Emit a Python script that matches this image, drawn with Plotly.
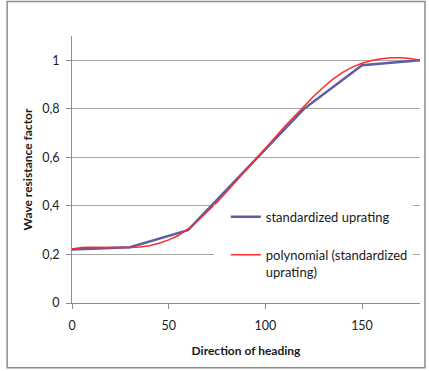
import plotly.graph_objects as go

# Data
std_x = [0, 30, 60, 90, 120, 150, 180]
std_y = [0.22, 0.23, 0.30, 0.55, 0.80, 0.98, 1.00]

poly_x = [0, 5, 10, 15, 20, 25, 30, 35, 40, 45, 50, 55, 60, 65, 70, 75, 80, 85, 90,
          95, 100, 105, 110, 115, 120, 125, 130, 135, 140, 145, 150, 155, 160, 165,
          170, 175, 180]
poly_y = [0.222, 0.229, 0.230, 0.229, 0.228, 0.228, 0.229, 0.231, 0.236, 0.246, 0.260,
          0.278, 0.305, 0.338, 0.375, 0.415, 0.458, 0.502, 0.547, 0.592, 0.637, 0.682,
          0.727, 0.770, 0.812, 0.852, 0.889, 0.922, 0.950, 0.972, 0.988, 0.999, 1.006,
          1.010, 1.010, 1.007, 1.000]

x_ticks = [0, 50, 100, 150]
x_tick_labels = ["0", "50", "100", "150"]
y_ticks = [0, 0.2, 0.4, 0.6, 0.8, 1.0]
y_tick_labels = ["0", "0,2", "0,4", "0,6", "0,8", "1"]

FONT = "Lato"

fig = go.Figure()
fig.add_trace(go.Scatter(
    x=std_x, y=std_y, mode="lines", name="standardized uprating",
    line=dict(color="#5B5EA0", width=2.5), legendgroup="a"))
fig.add_trace(go.Scatter(
    x=poly_x, y=poly_y, mode="lines", name="polynomial (standardized<br>uprating)",
    line=dict(color="#FF2A2A", width=1.5), legendgroup="b"))

L, R, T, B = 72.3, 420.0, 36.0, 303.3
W, H = 429, 371

def px2paper_x(p):
    return (p - L) / (R - L)

def px2paper_y(p):
    return (B - p) / (B - T)

fig.update_layout(
    width=W, height=H,
    margin=dict(l=L, r=W - R, t=T, b=H - B, pad=0),
    paper_bgcolor="white", plot_bgcolor="white",
    font=dict(family=FONT, size=12.5, color="#1a1a1a"),
    showlegend=True,
    legend=dict(
        x=px2paper_x(226), y=px2paper_y(202), xanchor="left", yanchor="top",
        bgcolor="white", borderwidth=0, tracegroupgap=18, valign="top",
        font=dict(family=FONT, size=13, color="#1a1a1a"),
        traceorder="grouped",
    ),
    xaxis=dict(
        range=[0, 180], tickvals=x_ticks, ticktext=x_tick_labels,
        showgrid=False, zeroline=False, showline=True, linecolor="#8c8c8c", linewidth=1,
        ticks="outside", ticklen=5, tickcolor="#8c8c8c", ticklabelstandoff=6,
        title=dict(text="<b>Direction of heading</b>", font=dict(family=FONT, size=12), standoff=14),
        automargin=False,
    ),
    yaxis=dict(
        range=[0, 1.1], tickvals=y_ticks, ticktext=y_tick_labels,
        showgrid=True, gridcolor="#a6a6a6", gridwidth=1, zeroline=False,
        showline=True, linecolor="#8c8c8c", linewidth=1,
        ticks="outside", ticklen=5, tickcolor="#8c8c8c", ticklabelstandoff=4,
        title=dict(text="<b>Wave resistance factor</b>", font=dict(family=FONT, size=12), standoff=6),
        automargin=False,
    ),
    shapes=[
        dict(type="rect", xref="paper", yref="paper",
             x0=px2paper_x(7.5), x1=px2paper_x(425), y0=px2paper_y(368), y1=px2paper_y(1.5),
             line=dict(color="#8c8c8c", width=1.5), fillcolor="rgba(0,0,0,0)", layer="below"),
        dict(type="rect", xref="paper", yref="paper",
             x0=px2paper_x(214), x1=px2paper_x(227), y0=px2paper_y(292), y1=px2paper_y(205),
             line=dict(width=0), fillcolor="white", layer="above"),
    ],
)

fig.write_html("out.html", config={"displayModeBar": False},
               post_script="document.body.style.margin='0';document.body.style.overflow='hidden';")
